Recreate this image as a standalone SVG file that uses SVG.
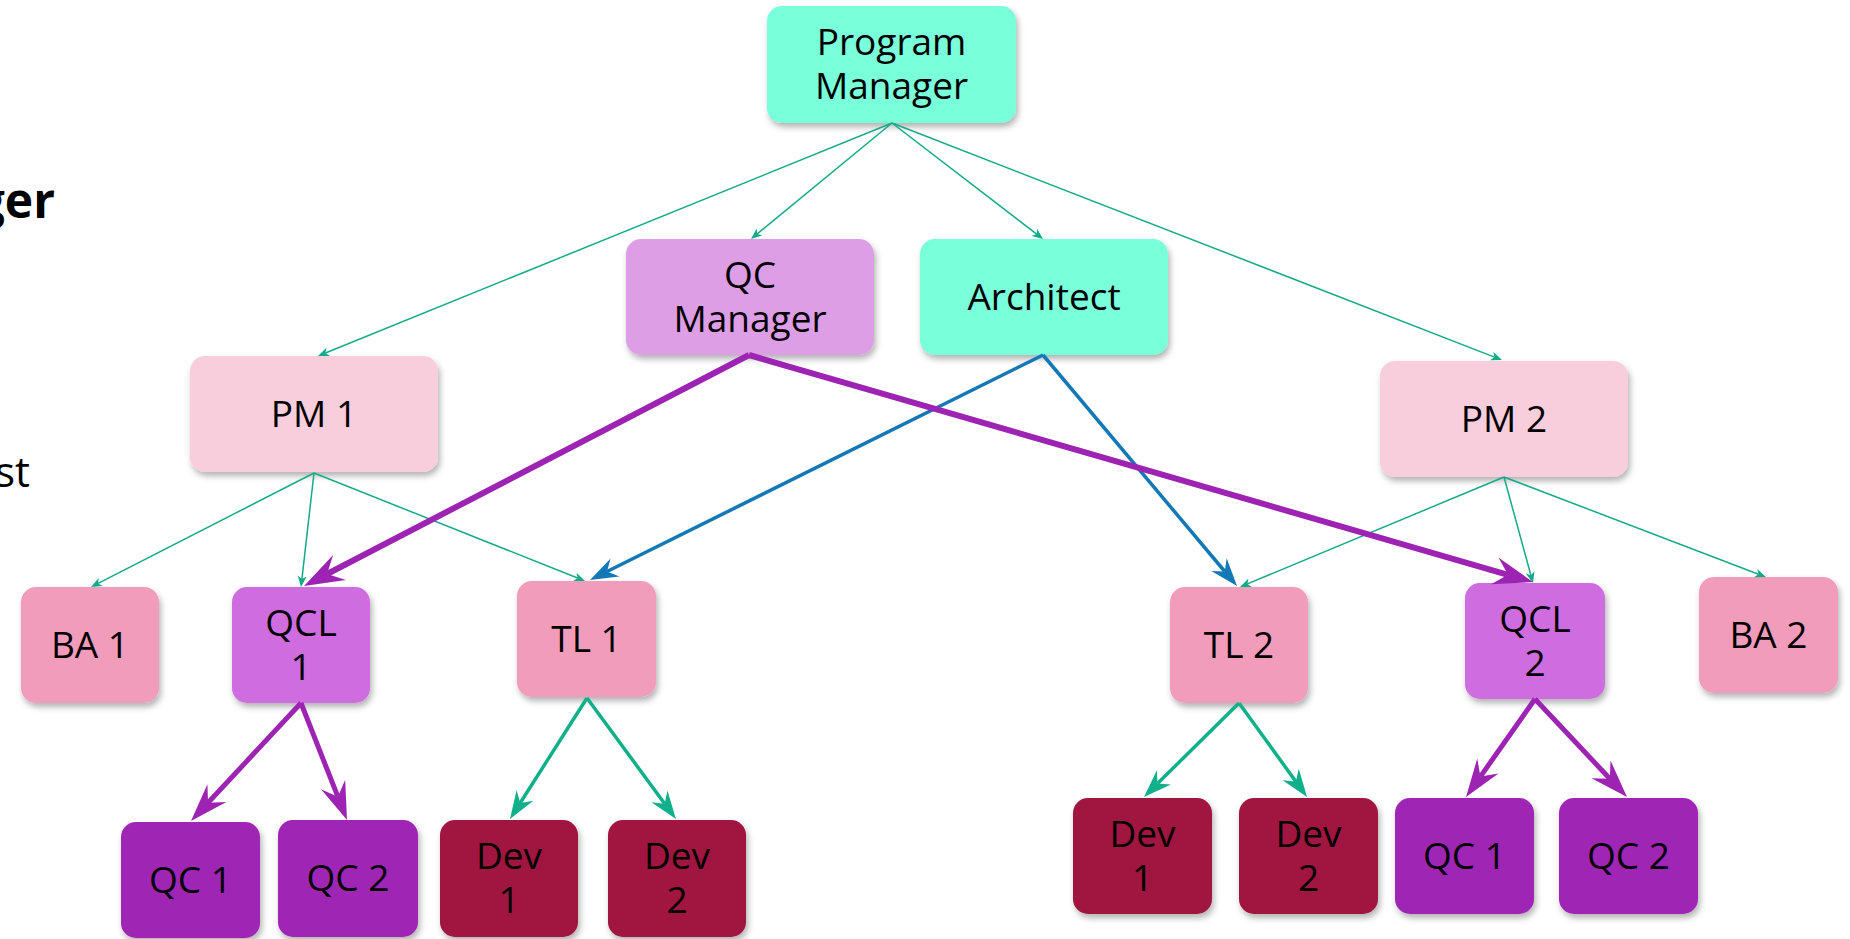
<svg xmlns="http://www.w3.org/2000/svg" width="1850" height="939" viewBox="0 0 1850 939">
<defs>
<style>
text{font-family:"Open Sans","Noto Sans","Liberation Sans",sans-serif;font-size:37px;fill:#000;text-anchor:middle}
.n rect{filter:url(#sh)}
.aqua{fill:#7affdb}.plum{fill:#dd9ee6}.lpink{fill:#f8cddc}.pink{fill:#f29cbb}.qcl{fill:#ce6ce0}.qc{fill:#9f25b4}.dev{fill:#a01441}
.g1{stroke:#12aa88;stroke-width:1.5;fill:none}
.g3{stroke:#12b08a;stroke-width:3.5;fill:none}
.bl{stroke:#1478b6;stroke-width:3.5;fill:none}
.p5{stroke:#9d24b3;stroke-width:6;fill:none}
.p4{stroke:#9d24b3;stroke-width:5;fill:none}
</style>
<filter id="sh" x="-20%" y="-20%" width="140%" height="150%">
<feDropShadow dx="2" dy="4" stdDeviation="3" flood-color="#000" flood-opacity="0.3"/>
</filter>
<marker id="mg1" markerUnits="userSpaceOnUse" orient="auto" markerWidth="12" markerHeight="10" viewBox="0 -5 12 10" refX="3" refY="0"><path d="M11,0 L0,-4.5 L3,0 L0,4.5 Z" fill="#12aa88"/></marker>
<marker id="mg3" markerUnits="userSpaceOnUse" orient="auto" markerWidth="29" markerHeight="22" viewBox="0 -11 29 22" refX="9" refY="0"><path d="M28,0 L0,-10 L9,0 L0,10 Z" fill="#12b08a"/></marker>
<marker id="mbl" markerUnits="userSpaceOnUse" orient="auto" markerWidth="29" markerHeight="22" viewBox="0 -11 29 22" refX="9" refY="0"><path d="M28,0 L0,-10 L9,0 L0,10 Z" fill="#1478b6"/></marker>
<marker id="mp5" markerUnits="userSpaceOnUse" orient="auto" markerWidth="41" markerHeight="30" viewBox="0 -15 41 30" refX="14" refY="0"><path d="M40,0 L0,-14 L14,0 L0,14 Z" fill="#9d24b3"/></marker>
<marker id="mp4" markerUnits="userSpaceOnUse" orient="auto" markerWidth="39" markerHeight="28" viewBox="0 -14 39 28" refX="13" refY="0"><path d="M38,0 L0,-13 L13,0 L0,13 Z" fill="#9d24b3"/></marker>
</defs>
<rect width="1850" height="939" fill="#fff"/>
<text x="55" y="218" style="text-anchor:end;font-weight:bold;font-size:48px">ger</text>
<text x="30" y="487" style="text-anchor:end;font-size:42px">st</text>

<g id="nodes">
<g id="program-manager" class="n"><rect class="aqua" x="767" y="6" width="249" height="117" rx="15"/><text x="891.5" y="55">Program</text><text x="891.5" y="99">Manager</text></g>
<g id="qc-manager" class="n"><rect class="plum" x="626" y="239" width="248" height="116" rx="15"/><text x="750" y="288">QC</text><text x="750" y="332">Manager</text></g>
<g id="architect" class="n"><rect class="aqua" x="920" y="239" width="248" height="116" rx="15"/><text x="1044" y="310">Architect</text></g>
<g id="pm1" class="n"><rect class="lpink" x="190" y="356" width="248" height="116" rx="15"/><text x="314" y="427">PM 1</text></g>
<g id="pm2" class="n"><rect class="lpink" x="1380" y="361" width="248" height="116" rx="15"/><text x="1504" y="432">PM 2</text></g>
<g id="ba1" class="n"><rect class="pink" x="21" y="587" width="138" height="116" rx="15"/><text x="90" y="658">BA 1</text></g>
<g id="qcl1" class="n"><rect class="qcl" x="232" y="587" width="138" height="116" rx="15"/><text x="301" y="636">QCL</text><text x="301" y="680">1</text></g>
<g id="tl1" class="n"><rect class="pink" x="517" y="581" width="139" height="116" rx="15"/><text x="586.5" y="652">TL 1</text></g>
<g id="tl2" class="n"><rect class="pink" x="1170" y="587" width="138" height="116" rx="15"/><text x="1239" y="658">TL 2</text></g>
<g id="qcl2" class="n"><rect class="qcl" x="1465" y="583" width="140" height="116" rx="15"/><text x="1535" y="632">QCL</text><text x="1535" y="676">2</text></g>
<g id="ba2" class="n"><rect class="pink" x="1699" y="577" width="139" height="116" rx="15"/><text x="1768.5" y="648">BA 2</text></g>
<g id="qc1-left" class="n"><rect class="qc" x="121" y="822" width="139" height="116" rx="15"/><text x="190.5" y="893">QC 1</text></g>
<g id="qc2-left" class="n"><rect class="qc" x="278" y="820" width="140" height="117" rx="15"/><text x="348" y="891">QC 2</text></g>
<g id="dev1-left" class="n"><rect class="dev" x="440" y="820" width="138" height="117" rx="15"/><text x="509" y="869">Dev</text><text x="509" y="913">1</text></g>
<g id="dev2-left" class="n"><rect class="dev" x="608" y="820" width="138" height="117" rx="15"/><text x="677" y="869">Dev</text><text x="677" y="913">2</text></g>
<g id="dev1-right" class="n"><rect class="dev" x="1073" y="798" width="139" height="116" rx="15"/><text x="1142.5" y="847">Dev</text><text x="1142.5" y="891">1</text></g>
<g id="dev2-right" class="n"><rect class="dev" x="1239" y="798" width="139" height="116" rx="15"/><text x="1308.5" y="847">Dev</text><text x="1308.5" y="891">2</text></g>
<g id="qc1-right" class="n"><rect class="qc" x="1395" y="798" width="139" height="116" rx="15"/><text x="1464.5" y="869">QC 1</text></g>
<g id="qc2-right" class="n"><rect class="qc" x="1559" y="798" width="139" height="116" rx="15"/><text x="1628.5" y="869">QC 2</text></g>
</g>

<g id="connectors">
<path class="g1" marker-end="url(#mg1)" d="M892,123 L325.4,353"/>
<path class="g1" marker-end="url(#mg1)" d="M892,123 L757.2,233.9"/>
<path class="g1" marker-end="url(#mg1)" d="M892,123 L1036.7,234.1"/>
<path class="g1" marker-end="url(#mg1)" d="M892,123 L1494.5,357.1"/>
<path class="g1" marker-end="url(#mg1)" d="M314,473 L98.1,583.4"/>
<path class="g1" marker-end="url(#mg1)" d="M314,473 L301.9,579.05"/>
<path class="g1" marker-end="url(#mg1)" d="M314,473 L577.6,578"/>
<path class="g1" marker-end="url(#mg1)" d="M1504,477 L1247.4,583.9"/>
<path class="g1" marker-end="url(#mg1)" d="M1504,477 L1530.9,575.3"/>
<path class="g1" marker-end="url(#mg1)" d="M1504,477 L1758.5,574.2"/>
<path class="g3" marker-end="url(#mg3)" d="M587,698 L520.2,803"/>
<path class="g3" marker-end="url(#mg3)" d="M587,698 L664.7,803.7"/>
<path class="g3" marker-end="url(#mg3)" d="M1239,703 L1157.5,783.6"/>
<path class="g3" marker-end="url(#mg3)" d="M1239,703 L1295.9,781.6"/>
<path class="bl" marker-end="url(#mbl)" d="M1043,355 L607,571.5"/>
<path class="bl" marker-end="url(#mbl)" d="M1043,355 L1224.8,571.5"/>
<path class="p5" marker-end="url(#mp5)" d="M749,355 L327.1,574"/>
<path class="p5" marker-end="url(#mp5)" d="M749,355 L1508,574.8"/>
<path class="p4" marker-end="url(#mp4)" d="M301,703 L208.05,802.7"/>
<path class="p4" marker-end="url(#mp4)" d="M301,703 L337.85,796.7"/>
<path class="p4" marker-end="url(#mp4)" d="M1535,699 L1480.4,776.6"/>
<path class="p4" marker-end="url(#mp4)" d="M1535,699 L1609.9,778.8"/>
</g>
</svg>
